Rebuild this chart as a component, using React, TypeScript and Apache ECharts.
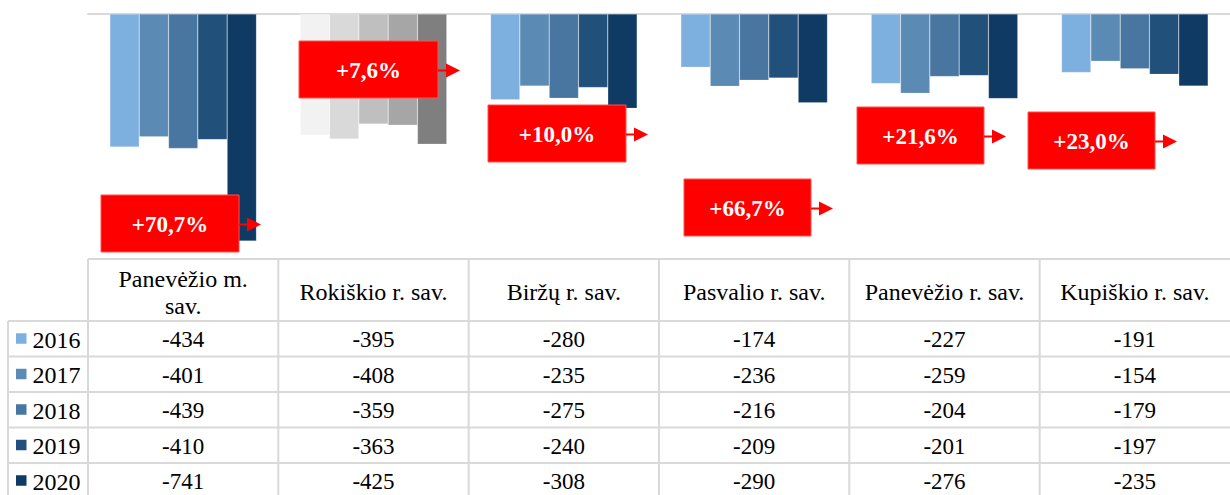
import React, { useEffect, useRef } from "react";
import * as echarts from "echarts";

const categories = [
  "Panevėžio m. sav.",
  "Rokiškio r. sav.",
  "Biržų r. sav.",
  "Pasvalio r. sav.",
  "Panevėžio r. sav.",
  "Kupiškio r. sav.",
];
const years = ["2016", "2017", "2018", "2019", "2020"];
const v2016 = [-434, -395, -280, -174, -227, -191];
const v2017 = [-401, -408, -235, -236, -259, -154];
const v2018 = [-439, -359, -275, -216, -204, -179];
const v2019 = [-410, -363, -240, -209, -201, -197];
const v2020 = [-741, -425, -308, -290, -276, -235];
const seriesValues = [v2016, v2017, v2018, v2019, v2020];

const blueColors = ["#7DB0DE", "#5B8AB4", "#4976A0", "#21507A", "#0E3A64"];
const greyColors = ["#F2F2F2", "#D9D9D9", "#BFBFBF", "#A6A6A6", "#7F7F7F"];
const greyCategoryIndex = 1;

// annotation box layout (pixels)
const boxLayout = [
  { x: 101, y: 195, w: 138 },
  { x: 299, y: 41, w: 139 },
  { x: 488, y: 105, w: 138 },
  { x: 684, y: 179, w: 127 },
  { x: 857, y: 107, w: 127 },
  { x: 1028, y: 112, w: 127 },
];
const BOX_H = 57;

const W = 1230;
const H = 495;
const GRID_LEFT = 88;
const GRID_TOP = 14;
const GRID_H = 245;
const HEADER_BOTTOM = 321;
const ROW_H = 35.5;
const LEGEND_LEFT = 8;
const GRID_COLOR = "#D9D9D9";
const SERIF = "Liberation Serif";

function fmtChange(a: number, b: number) {
  const p = ((b - a) / a) * 100;
  return (p >= 0 ? "+" : "") + p.toFixed(1).replace(".", ",") + "%";
}

function headerLabel(c: string) {
  return c === "Panevėžio m. sav." ? "Panevėžio m.\nsav." : c;
}

export default function App() {
  const ref = useRef<HTMLDivElement>(null);
  useEffect(() => {
    if (!ref.current) return;
    const chart = echarts.init(ref.current, null, { renderer: "svg" });
    const colW = (W - GRID_LEFT) / categories.length;
    const graphics: any[] = [];
    const txt = (size: number, bold = false) => ({
      fontFamily: SERIF,
      fontSize: size,
      fontWeight: bold ? "bold" : "normal",
    });

    // annotations
    categories.forEach((_, i) => {
      const b = boxLayout[i];
      const cy = b.y + BOX_H / 2 + 1;
      graphics.push({
        type: "rect",
        z: 100,
        shape: { x: b.x, y: b.y, width: b.w, height: BOX_H },
        style: { fill: "#FF0000", stroke: "#FF5050", lineWidth: 1 },
      });
      graphics.push({
        type: "text",
        z: 101,
        x: b.x + b.w / 2,
        y: b.y + BOX_H / 2 + 1,
        style: {
          text: fmtChange(v2016[i], v2020[i]),
          ...txt(23, true),
          fill: "#FFFFFF",
          align: "center",
          verticalAlign: "middle",
        },
      });
      graphics.push({
        type: "line",
        z: 100,
        shape: { x1: b.x + b.w, y1: cy, x2: b.x + b.w + 9, y2: cy },
        style: { stroke: "#FF0000", lineWidth: 2 },
      });
      graphics.push({
        type: "polygon",
        z: 100,
        shape: {
          points: [
            [b.x + b.w + 8, cy - 7],
            [b.x + b.w + 22, cy],
            [b.x + b.w + 8, cy + 7],
          ],
        },
        style: { fill: "#FF0000" },
      });
    });

    // table lines
    const tableTop = GRID_TOP + GRID_H;
    const lineStyle = { stroke: GRID_COLOR, lineWidth: 2 };
    graphics.push({
      type: "line",
      z: 50,
      shape: { x1: GRID_LEFT, y1: tableTop, x2: W, y2: tableTop },
      style: lineStyle,
    });
    years.forEach((_, r) => {
      const y = HEADER_BOTTOM + r * ROW_H;
      graphics.push({
        type: "line",
        z: 50,
        shape: { x1: LEGEND_LEFT, y1: y, x2: W, y2: y },
        style: lineStyle,
      });
    });
    graphics.push({
      type: "line",
      z: 50,
      shape: { x1: LEGEND_LEFT, y1: HEADER_BOTTOM, x2: LEGEND_LEFT, y2: H },
      style: lineStyle,
    });
    for (let k = 0; k < categories.length; k++) {
      const x = GRID_LEFT + k * colW;
      graphics.push({
        type: "line",
        z: 50,
        shape: { x1: x, y1: tableTop, x2: x, y2: H },
        style: lineStyle,
      });
    }

    // header texts
    categories.forEach((c, i) => {
      graphics.push({
        type: "text",
        z: 51,
        x: GRID_LEFT + (i + 0.5) * colW,
        y: (tableTop + HEADER_BOTTOM) / 2 + 2,
        style: {
          text: headerLabel(c),
          ...txt(24),
          lineHeight: 27,
          fill: "#000000",
          align: "center",
          verticalAlign: "middle",
        },
      });
    });

    // rows
    years.forEach((yr, r) => {
      const cy = HEADER_BOTTOM + (r + 0.5) * ROW_H;
      graphics.push({
        type: "rect",
        z: 51,
        shape: { x: 16, y: cy - 5.5, width: 10.5, height: 10.5 },
        style: { fill: blueColors[r] },
      });
      graphics.push({
        type: "text",
        z: 51,
        x: 32.5,
        y: cy + 1,
        style: {
          text: yr,
          ...txt(24),
          fill: "#000000",
          align: "left",
          verticalAlign: "middle",
        },
      });
      seriesValues[r].forEach((v, i) => {
        graphics.push({
          type: "text",
          z: 51,
          x: GRID_LEFT + (i + 0.5) * colW,
          y: cy + 1,
          style: {
            text: String(v),
            ...txt(23),
            fill: "#000000",
            align: "center",
            verticalAlign: "middle",
          },
        });
      });
    });

    const series = years.map((yr, s) => ({
      name: yr,
      type: "bar",
      barGap: "0%",
      barCategoryGap: "23%",
      itemStyle: {
        color: blueColors[s],
        borderColor: "rgba(255,255,255,0.35)",
        borderWidth: 0.5,
      },
      data: seriesValues[s].map((v, i) =>
        i === greyCategoryIndex
          ? { value: v, itemStyle: { color: greyColors[s] } }
          : v
      ),
    }));

    chart.setOption({
      animation: false,
      backgroundColor: "#FFFFFF",
      grid: {
        left: GRID_LEFT,
        right: 0,
        top: GRID_TOP,
        height: GRID_H,
        containLabel: false,
      },
      xAxis: {
        type: "category",
        data: categories,
        axisLine: { show: true, onZero: true, lineStyle: { color: GRID_COLOR, width: 2 } },
        axisTick: { show: false },
        axisLabel: { show: false },
        splitLine: { show: false },
      },
      yAxis: {
        type: "value",
        min: -800,
        max: 0,
        interval: 100,
        axisLine: { show: false },
        axisTick: { show: false },
        axisLabel: { show: false },
        splitLine: { show: false },
      },
      series,
      graphic: { elements: graphics },
    });
    return () => chart.dispose();
  }, []);
  return (
    <div
      ref={ref}
      style={{ position: "absolute", left: 0, top: 0, width: W, height: H, background: "#fff" }}
    />
  );
}
